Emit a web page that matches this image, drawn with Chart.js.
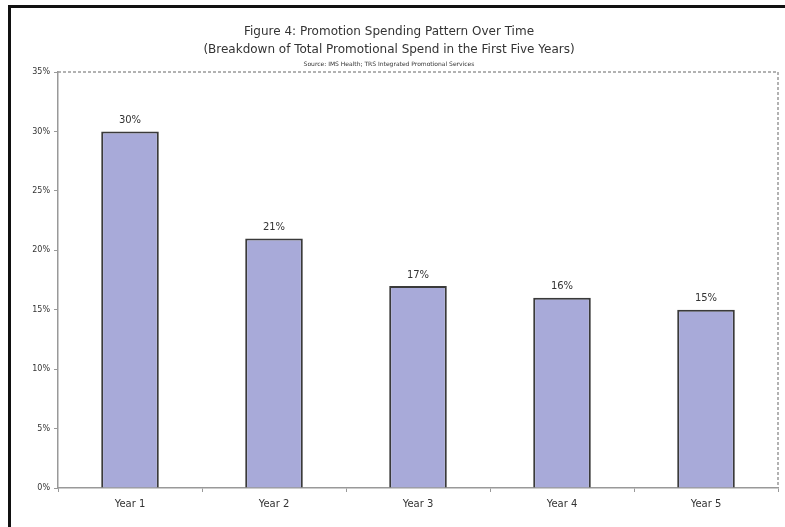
<!DOCTYPE html>
<html>
<head>
<meta charset="utf-8">
<script src="https://cdn.jsdelivr.net/npm/chart.js@4.4.1/dist/chart.umd.min.js"></script>
<style>
    html, body { margin: 0; padding: 0; background: #fff; }
    #frame {
        position: absolute; left: 8px; top: 5px; width: 800px; height: 540px;
        border-top: 3px solid #111; border-left: 3px solid #111;
    }
    #wrap { position: absolute; left: 0; top: 0; width: 785px; height: 527px; }
</style>
</head>
<body>
<div id="frame"></div>
<div id="wrap"><canvas id="chart" width="785" height="527"></canvas></div>
<script>
const years = ["Year 1", "Year 2", "Year 3", "Year 4", "Year 5"];
const spendShare = [30, 21, 17, 16, 15];
const titleLines = [
    "Figure 4: Promotion Spending Pattern Over Time",
    "(Breakdown of Total Promotional Spend in the First Five Years)"
];
const sourceNote = "Source: IMS Health; TRS Integrated Promotional Services";

const textColor = "#333";
const fontFamily = "'DejaVu Sans', Verdana, sans-serif";

// dashed box around the plot (top and right sides)
const plotBorder = {
    id: "plotBorder",
    beforeDatasetsDraw(chart) {
        const { ctx, chartArea: a } = chart;
        ctx.save();
        ctx.strokeStyle = "#999";
        ctx.lineWidth = 1.5;
        ctx.setLineDash([3, 2]);
        ctx.beginPath();
        ctx.moveTo(a.left, a.top);
        ctx.lineTo(a.right, a.top);
        ctx.lineTo(a.right, a.bottom);
        ctx.stroke();
        ctx.restore();
    }
};

// percentage labels above each bar
const barLabels = {
    id: "barLabels",
    afterDatasetsDraw(chart) {
        const { ctx } = chart;
        const meta = chart.getDatasetMeta(0);
        ctx.save();
        ctx.fillStyle = textColor;
        ctx.font = "10px " + fontFamily;
        ctx.textAlign = "center";
        ctx.textBaseline = "bottom";
        meta.data.forEach((bar, i) => {
            ctx.fillText(spendShare[i] + "%", bar.x, bar.y - 6);
        });
        ctx.restore();
    }
};

new Chart(document.getElementById("chart").getContext("2d"), {
    type: "bar",
    data: {
        labels: years,
        datasets: [{
            data: spendShare,
            backgroundColor: "#a8aad9",
            borderColor: "#3a3a3a",
            borderWidth: 2,
            barPercentage: 0.4,
            categoryPercentage: 1
        }]
    },
    options: {
        responsive: false,
        animation: false,
        layout: { padding: { left: 0, right: 7, top: 0, bottom: 0 } },
        plugins: {
            legend: { display: false },
            tooltip: { enabled: false },
            title: {
                display: true,
                text: titleLines,
                color: textColor,
                font: { family: fontFamily, size: 12, weight: "normal", lineHeight: 1.5 },
                padding: { top: 23, bottom: 0 }
            },
            subtitle: {
                display: true,
                text: sourceNote,
                color: textColor,
                font: { family: fontFamily, size: 6, lineHeight: 1 },
                padding: { top: 2, bottom: 5 }
            }
        },
        scales: {
            x: {
                grid: { display: true, drawOnChartArea: false, tickLength: 4, color: "#999" },
                border: { color: "#999", width: 1.5 },
                ticks: { color: textColor, font: { family: fontFamily, size: 10 }, padding: 6 },
                afterFit(scale) { scale.height = 39; }
            },
            y: {
                min: 0,
                max: 35,
                grid: { display: true, drawOnChartArea: false, tickLength: 4, color: "#999" },
                border: { color: "#999", width: 1.5, dash: [3, 2] },
                ticks: {
                    stepSize: 5,
                    color: textColor,
                    font: { family: fontFamily, size: 8 },
                    padding: 4,
                    callback: v => v + "%"
                },
                afterFit(scale) { scale.width = 58; }
            }
        }
    },
    plugins: [plotBorder, barLabels]
});
</script>
</body>
</html>
